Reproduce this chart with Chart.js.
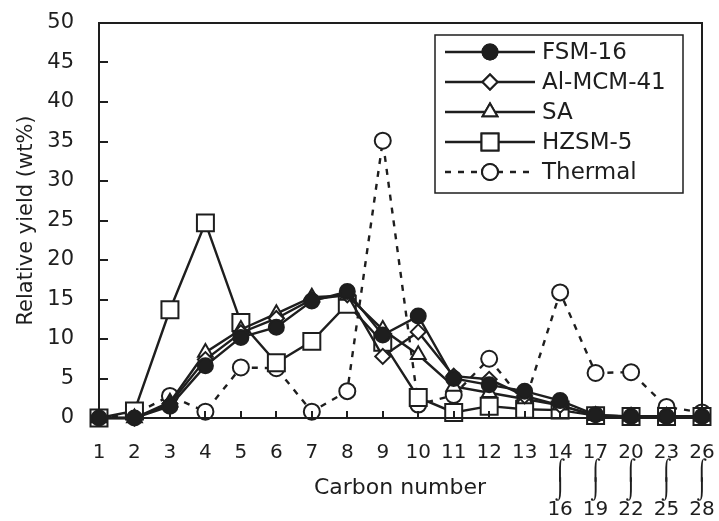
<!DOCTYPE html>
<html>
<head>
<meta charset="utf-8">
<script src="https://cdn.jsdelivr.net/npm/chart.js@4.4.0/dist/chart.umd.min.js"></script>
<style>
  html, body { margin: 0; padding: 0; background: #fff; }
  #wrap { width: 719px; height: 521px; }
</style>
</head>
<body>
<div id="wrap"><canvas id="chart_here"></canvas></div>
<script>
'use strict';

// carbon number groups on the x axis (ranges written with a tall integral-like squiggle)
var carbonLabels = ['1', '2', '3', '4', '5', '6', '7', '8', '9', '10', '11', '12', '13',
  ['14', '\u2320', '\u2321', '16'], ['17', '\u2320', '\u2321', '19'], ['20', '\u2320', '\u2321', '22'],
  ['23', '\u2320', '\u2321', '25'], ['26', '\u2320', '\u2321', '28']];

// relative yield (wt%) per catalyst
var fsm16 = [0, 0, 1.5, 6.6, 10.2, 11.5, 14.8, 16.0, 10.5, 12.9, 5.0, 4.2, 3.4, 2.2, 0.4, 0.2, 0.2, 0.2];
var alMcm41 = [0, 0, 1.8, 7.4, 10.8, 12.6, 15.0, 15.6, 7.8, 10.9, 5.3, 4.9, 2.8, 1.6, 0.3, 0.2, 0.2, 0.2];
var sa = [0, 0, 2.0, 8.3, 11.2, 13.2, 15.3, 15.5, 11.2, 8.0, 4.0, 3.2, 2.4, 1.6, 0.3, 0.2, 0.2, 0.2];
var hzsm5 = [0, 0.9, 13.7, 24.7, 12.1, 7.0, 9.7, 14.4, 9.6, 2.6, 0.7, 1.5, 1.1, 1.0, 0.3, 0.2, 0.2, 0.2];
var thermal = [0, 0.5, 2.8, 0.8, 6.4, 6.3, 0.8, 3.4, 35.1, 1.7, 2.9, 7.5, 1.9, 15.9, 5.7, 5.8, 1.4, 0.7];

var yTicks = [0, 5, 10, 15, 20, 25, 30, 35, 40, 45, 50];

var ink = '#1e1e1e';

Chart.defaults.font.family = 'DejaVu Sans';
Chart.defaults.color = ink;

function makeSeries(label, data, style, radius, fill, dash) {
  return {
    label: label,
    data: data,
    borderColor: ink,
    borderWidth: 2.4,
    borderDash: dash || [],
    pointStyle: style,
    pointRadius: radius,
    pointBorderWidth: 2,
    pointBorderColor: ink,
    pointBackgroundColor: fill,
    tension: 0,
    clip: false
  };
}

// frame, inward ticks, x title and the boxed legend
var framePlugin = {
  id: 'frame',
  afterDraw: function(chart) {
    var ctx = chart.ctx;
    var area = chart.chartArea;
    var xs = chart.scales.x;
    var ys = chart.scales.y;
    ctx.save();
    ctx.strokeStyle = ink;
    ctx.lineWidth = 2;
    ctx.strokeRect(area.left, area.top, area.right - area.left, area.bottom - area.top);
    ctx.beginPath();
    for (var i = 0; i < yTicks.length; i++) {
      var py = Math.round(ys.getPixelForValue(yTicks[i]));
      ctx.moveTo(area.left, py);
      ctx.lineTo(area.left + 9, py);
    }
    for (var j = 1; j < carbonLabels.length - 1; j++) {
      var px = Math.round(xs.getPixelForValue(j));
      ctx.moveTo(px, area.bottom);
      ctx.lineTo(px, area.bottom - 7);
    }
    ctx.stroke();

    ctx.font = '22px "DejaVu Sans"';
    ctx.fillStyle = ink;
    ctx.textAlign = 'center';
    ctx.textBaseline = 'middle';
    ctx.fillText('Carbon number', 400, 488);

    // legend
    ctx.lineWidth = 1.5;
    ctx.strokeRect(435, 35, 248, 158);
    var rows = [52, 82, 112, 142, 172];
    chart.data.datasets.forEach(function(ds, k) {
      var y = rows[k];
      ctx.setLineDash(ds.borderDash);
      ctx.lineWidth = 2.4;
      ctx.beginPath();
      ctx.moveTo(445, y);
      ctx.lineTo(535, y);
      ctx.stroke();
      ctx.setLineDash([]);
      ctx.lineWidth = 2;
      Chart.helpers.drawPoint(ctx, {
        pointStyle: ds.pointStyle,
        radius: ds.pointRadius,
        borderWidth: 2
      }, 490, y);
      ctx.fillStyle = ds.pointBackgroundColor;
      ctx.fill();
      ctx.stroke();
      ctx.fillStyle = ink;
      ctx.font = '23px "DejaVu Sans"';
      ctx.textAlign = 'left';
      ctx.fillText(ds.label, 542, y + 1);
    });
    ctx.restore();
  }
};

var ctx = document.getElementById('chart_here').getContext('2d');
var yieldChart = new Chart(ctx, {
  type: 'line',
  data: {
    labels: carbonLabels,
    datasets: [
      makeSeries('FSM-16', fsm16, 'circle', 7.5, ink),
      makeSeries('Al-MCM-41', alMcm41, 'rectRot', 7.5, '#fff'),
      makeSeries('SA', sa, 'triangle', 8.5, '#fff'),
      makeSeries('HZSM-5', hzsm5, 'rect', 12, '#fff'),
      makeSeries('Thermal', thermal, 'circle', 8, '#fff', [6, 7])
    ]
  },
  options: {
    responsive: true,
    maintainAspectRatio: false,
    animation: false,
    layout: { padding: { top: 23, right: 17, bottom: 0, left: 0 } },
    plugins: {
      legend: { display: false },
      tooltip: { enabled: false }
    },
    scales: {
      x: {
        offset: false,
        grid: { display: false },
        border: { display: false },
        ticks: {
          autoSkip: false,
          maxRotation: 0,
          padding: 17,
          font: { size: 20, lineHeight: 0.96 }
        },
        afterFit: function(scale) {
          scale.height = 103;
          scale.paddingLeft = 0;
          scale.paddingRight = 0;
        }
      },
      y: {
        min: 0,
        max: 50,
        grid: { display: false },
        border: { display: false },
        ticks: {
          stepSize: 5,
          padding: 17,
          font: { size: 21 }
        },
        title: {
          display: true,
          text: 'Relative yield (wt%)',
          font: { size: 21 },
          padding: { top: 14, bottom: 0 }
        },
        afterFit: function(scale) {
          scale.width = 99;
          scale.paddingTop = 0;
          scale.paddingBottom = 0;
        }
      }
    }
  },
  plugins: [framePlugin]
});
</script>
</body>
</html>
